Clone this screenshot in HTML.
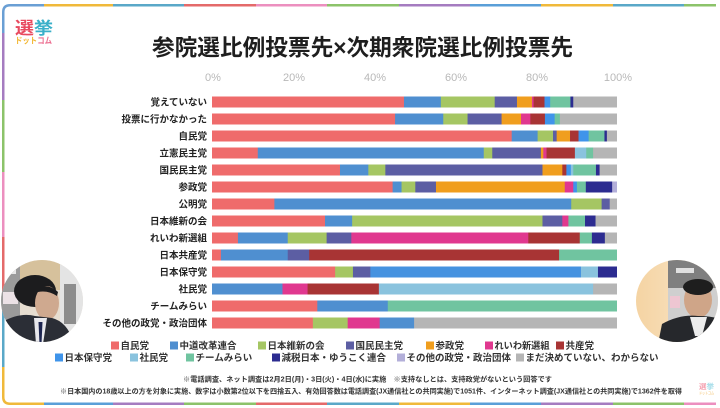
<!DOCTYPE html>
<html><head><meta charset="utf-8"><style>
html,body{margin:0;padding:0;background:#fff;}
body{width:720px;height:408px;overflow:hidden;position:relative;}
svg{display:block;}
</style></head><body>
<svg width="720" height="408" viewBox="0 0 720 408" xmlns="http://www.w3.org/2000/svg" font-family="'Liberation Sans','Noto Sans CJK JP',sans-serif">
<rect width="720" height="408" fill="#fff"/>
<!-- frame -->
<g fill="none" stroke-width="2.5">
<path d="M3.25 33 V12 Q3.25 5.25 10 5.25 H44" stroke="#6a9fd4"/>
<path d="M44 5.25 H113" stroke="#f0b93a"/>
<path d="M113 5.25 H184" stroke="#5aa8c8"/>
<path d="M184 5.25 H256" stroke="#e46a6a"/>
<path d="M256 5.25 H327" stroke="#ec8fbf"/>
<path d="M327 5.25 H399" stroke="#8cc36a"/>
<path d="M399 5.25 H470" stroke="#a57cc0"/>
<path d="M470 5.25 H541" stroke="#5a9fd8"/>
<path d="M541 5.25 H613" stroke="#f0b93a"/>
<path d="M613 5.25 H684" stroke="#5aa8c8"/>
<path d="M684 5.25 H716" stroke="#8cc36a"/>
<path d="M3.25 33 V100" stroke="#a57cc0"/>
<path d="M3.25 100 V172" stroke="#8cc36a"/>
<path d="M3.25 172 V237" stroke="#ec8fbf"/>
<path d="M3.25 237 V300" stroke="#e46a6a"/>
<path d="M3.25 300 V367" stroke="#5aa8c8"/>
<path d="M3.25 367 V397 Q3.25 403.75 10 403.75 H44" stroke="#f0b93a"/>
<path d="M44 403.75 H113" stroke="#5a9fd8"/>
<path d="M113 403.75 H184" stroke="#a57cc0"/>
<path d="M184 403.75 H256" stroke="#8cc36a"/>
<path d="M256 403.75 H327" stroke="#e46a6a"/>
<path d="M327 403.75 H399" stroke="#5aa8c8"/>
<path d="M399 403.75 H470" stroke="#f0b93a"/>
<path d="M470 403.75 H541" stroke="#5a9fd8"/>
<path d="M541 403.75 H613" stroke="#a57cc0"/>
<path d="M613 403.75 H684" stroke="#8cc36a"/>
<path d="M684 403.75 H716" stroke="#ec8fbf"/>
</g>
<!-- logo -->
<text x="15" y="34" font-size="17" font-weight="700" textLength="38" lengthAdjust="spacingAndGlyphs"><tspan fill="#e84a5f">選</tspan><tspan fill="#3bb0c9">挙</tspan></text>
<text x="15" y="43.5" font-size="8.5" font-weight="700" textLength="37" lengthAdjust="spacingAndGlyphs"><tspan fill="#f2b632">ドット</tspan><tspan fill="#ec6d8f">コム</tspan></text>
<!-- title -->
<text x="152" y="55.6" font-size="22.7" font-weight="700" fill="#1e1e1e" textLength="421" lengthAdjust="spacingAndGlyphs">参院選比例投票先×次期衆院選比例投票先</text>
<!-- ticks -->
<g font-size="11" fill="#b8b8b8" text-anchor="middle">
<text x="213" y="81">0%</text>
<text x="294" y="81">20%</text>
<text x="375" y="81">40%</text>
<text x="456" y="81">60%</text>
<text x="537" y="81">80%</text>
<text x="618" y="81">100%</text>
</g>
<!-- row labels -->
<g font-size="9.5" font-weight="700" fill="#222" text-anchor="end">
<text x="207" y="105.6">覚えていない</text>
<text x="207" y="122.6">投票に行かなかった</text>
<text x="207" y="139.6">自民党</text>
<text x="207" y="156.6">立憲民主党</text>
<text x="207" y="173.6">国民民主党</text>
<text x="207" y="190.6">参政党</text>
<text x="207" y="207.6">公明党</text>
<text x="207" y="224.6">日本維新の会</text>
<text x="207" y="241.6">れいわ新選組</text>
<text x="207" y="258.6">日本共産党</text>
<text x="207" y="275.6">日本保守党</text>
<text x="207" y="292.6">社民党</text>
<text x="207" y="309.6">チームみらい</text>
<text x="207" y="326.6">その他の政党・政治団体</text>
</g>
<!-- bars -->
<svg x="212" y="96.5" width="405" height="11" viewBox="0 0 100 1" preserveAspectRatio="none">
<rect width="100" height="1" fill="#b5b5b5"/><rect width="89.2" height="1" fill="#2c2c90"/><rect width="88.5" height="1" fill="#70c4a0"/><rect width="83.5" height="1" fill="#3f94ea"/><rect width="82.1" height="1" fill="#a83434"/><rect width="79.4" height="1" fill="#e0388f"/><rect width="79.0" height="1" fill="#f09e1e"/><rect width="75.3" height="1" fill="#5c5ea3"/><rect width="69.8" height="1" fill="#a5c663"/><rect width="56.5" height="1" fill="#4f8fd0"/><rect width="47.4" height="1" fill="#ef6b6b"/>
</svg>
<svg x="212" y="113.5" width="405" height="11" viewBox="0 0 100 1" preserveAspectRatio="none">
<rect width="100" height="1" fill="#b5b5b5"/><rect width="85.9" height="1" fill="#70c4a0"/><rect width="84.6" height="1" fill="#3f94ea"/><rect width="82.2" height="1" fill="#a83434"/><rect width="78.6" height="1" fill="#e0388f"/><rect width="76.3" height="1" fill="#f09e1e"/><rect width="71.5" height="1" fill="#5c5ea3"/><rect width="63.1" height="1" fill="#a5c663"/><rect width="57.1" height="1" fill="#4f8fd0"/><rect width="45.2" height="1" fill="#ef6b6b"/>
</svg>
<svg x="212" y="130.5" width="405" height="11" viewBox="0 0 100 1" preserveAspectRatio="none">
<rect width="100" height="1" fill="#b5b5b5"/><rect width="97.5" height="1" fill="#2c2c90"/><rect width="96.9" height="1" fill="#70c4a0"/><rect width="93.0" height="1" fill="#3f94ea"/><rect width="90.5" height="1" fill="#a83434"/><rect width="88.4" height="1" fill="#f09e1e"/><rect width="85.1" height="1" fill="#5c5ea3"/><rect width="84.2" height="1" fill="#a5c663"/><rect width="80.4" height="1" fill="#4f8fd0"/><rect width="74.0" height="1" fill="#ef6b6b"/>
</svg>
<svg x="212" y="147.5" width="405" height="11" viewBox="0 0 100 1" preserveAspectRatio="none">
<rect width="100" height="1" fill="#b5b5b5"/><rect width="94.1" height="1" fill="#70c4a0"/><rect width="92.4" height="1" fill="#8ac3de"/><rect width="89.6" height="1" fill="#a83434"/><rect width="82.6" height="1" fill="#e0388f"/><rect width="81.8" height="1" fill="#f09e1e"/><rect width="81.2" height="1" fill="#5c5ea3"/><rect width="69.2" height="1" fill="#a5c663"/><rect width="67.1" height="1" fill="#4f8fd0"/><rect width="11.3" height="1" fill="#ef6b6b"/>
</svg>
<svg x="212" y="164.5" width="405" height="11" viewBox="0 0 100 1" preserveAspectRatio="none">
<rect width="100" height="1" fill="#b5b5b5"/><rect width="95.7" height="1" fill="#2c2c90"/><rect width="94.8" height="1" fill="#70c4a0"/><rect width="89.2" height="1" fill="#8ac3de"/><rect width="88.6" height="1" fill="#3f94ea"/><rect width="87.5" height="1" fill="#a83434"/><rect width="86.5" height="1" fill="#f09e1e"/><rect width="81.6" height="1" fill="#5c5ea3"/><rect width="42.8" height="1" fill="#a5c663"/><rect width="38.6" height="1" fill="#4f8fd0"/><rect width="31.6" height="1" fill="#ef6b6b"/>
</svg>
<svg x="212" y="181.5" width="405" height="11" viewBox="0 0 100 1" preserveAspectRatio="none">
<rect width="100" height="1" fill="#b3afd9"/><rect width="98.8" height="1" fill="#2c2c90"/><rect width="92.3" height="1" fill="#70c4a0"/><rect width="90.1" height="1" fill="#3f94ea"/><rect width="89.2" height="1" fill="#e0388f"/><rect width="87.1" height="1" fill="#f09e1e"/><rect width="55.3" height="1" fill="#5c5ea3"/><rect width="50.2" height="1" fill="#a5c663"/><rect width="46.8" height="1" fill="#4f8fd0"/><rect width="44.6" height="1" fill="#ef6b6b"/>
</svg>
<svg x="212" y="198.5" width="405" height="11" viewBox="0 0 100 1" preserveAspectRatio="none">
<rect width="100" height="1" fill="#b5b5b5"/><rect width="98.2" height="1" fill="#5c5ea3"/><rect width="96.2" height="1" fill="#a5c663"/><rect width="88.7" height="1" fill="#4f8fd0"/><rect width="15.4" height="1" fill="#ef6b6b"/>
</svg>
<svg x="212" y="215.5" width="405" height="11" viewBox="0 0 100 1" preserveAspectRatio="none">
<rect width="100" height="1" fill="#b5b5b5"/><rect width="94.7" height="1" fill="#2c2c90"/><rect width="92.1" height="1" fill="#70c4a0"/><rect width="88.0" height="1" fill="#e0388f"/><rect width="86.5" height="1" fill="#5c5ea3"/><rect width="81.6" height="1" fill="#a5c663"/><rect width="34.6" height="1" fill="#4f8fd0"/><rect width="27.9" height="1" fill="#ef6b6b"/>
</svg>
<svg x="212" y="232.5" width="405" height="11" viewBox="0 0 100 1" preserveAspectRatio="none">
<rect width="100" height="1" fill="#b5b5b5"/><rect width="97.0" height="1" fill="#2c2c90"/><rect width="93.8" height="1" fill="#70c4a0"/><rect width="90.8" height="1" fill="#a83434"/><rect width="78.1" height="1" fill="#e0388f"/><rect width="34.4" height="1" fill="#5c5ea3"/><rect width="28.3" height="1" fill="#a5c663"/><rect width="18.7" height="1" fill="#4f8fd0"/><rect width="6.4" height="1" fill="#ef6b6b"/>
</svg>
<svg x="212" y="249.5" width="405" height="11" viewBox="0 0 100 1" preserveAspectRatio="none">
<rect width="100" height="1" fill="#70c4a0"/><rect width="85.7" height="1" fill="#a83434"/><rect width="24.0" height="1" fill="#5c5ea3"/><rect width="18.7" height="1" fill="#4f8fd0"/><rect width="2.2" height="1" fill="#ef6b6b"/>
</svg>
<svg x="212" y="266.5" width="405" height="11" viewBox="0 0 100 1" preserveAspectRatio="none">
<rect width="100" height="1" fill="#2c2c90"/><rect width="95.3" height="1" fill="#8ac3de"/><rect width="91.1" height="1" fill="#4592e0"/><rect width="39.1" height="1" fill="#5c5ea3"/><rect width="34.8" height="1" fill="#a5c663"/><rect width="30.4" height="1" fill="#ef6b6b"/>
</svg>
<svg x="212" y="283.5" width="405" height="11" viewBox="0 0 100 1" preserveAspectRatio="none">
<rect width="100" height="1" fill="#b5b5b5"/><rect width="94.1" height="1" fill="#8ac3de"/><rect width="41.2" height="1" fill="#a83434"/><rect width="23.6" height="1" fill="#e0388f"/><rect width="17.4" height="1" fill="#4f8fd0"/>
</svg>
<svg x="212" y="300.5" width="405" height="11" viewBox="0 0 100 1" preserveAspectRatio="none">
<rect width="100" height="1" fill="#70c4a0"/><rect width="43.4" height="1" fill="#4f8fd0"/><rect width="26.0" height="1" fill="#ef6b6b"/>
</svg>
<svg x="212" y="317.5" width="405" height="11" viewBox="0 0 100 1" preserveAspectRatio="none">
<rect width="100" height="1" fill="#b5b5b5"/><rect width="49.9" height="1" fill="#4f8fd0"/><rect width="41.4" height="1" fill="#e0388f"/><rect width="33.5" height="1" fill="#a5c663"/><rect width="24.9" height="1" fill="#ef6b6b"/>
</svg>
<!-- legend -->
<g font-size="9.5" font-weight="700" fill="#333">
<rect x="111" y="341.5" width="8" height="8" fill="#ef6b6b"/><text x="120.5" y="349.1">自民党</text>
<rect x="170" y="341.5" width="8" height="8" fill="#4f8fd0"/><text x="179.5" y="349.1">中道改革連合</text>
<rect x="258" y="341.5" width="8" height="8" fill="#a5c663"/><text x="267.5" y="349.1">日本維新の会</text>
<rect x="346" y="341.5" width="8" height="8" fill="#5c5ea3"/><text x="355.5" y="349.1">国民民主党</text>
<rect x="426" y="341.5" width="8" height="8" fill="#f09e1e"/><text x="435.5" y="349.1">参政党</text>
<rect x="485" y="341.5" width="8" height="8" fill="#e0388f"/><text x="494.5" y="349.1" textLength="55" lengthAdjust="spacingAndGlyphs">れいわ新選組</text>
<rect x="556" y="341.5" width="8" height="8" fill="#a83434"/><text x="565.5" y="349.1">共産党</text>
<rect x="55" y="353.5" width="8" height="8" fill="#3f94ea"/><text x="64.5" y="361.1">日本保守党</text>
<rect x="130" y="353.5" width="8" height="8" fill="#8ac3de"/><text x="139.5" y="361.1">社民党</text>
<rect x="186" y="353.5" width="8" height="8" fill="#70c4a0"/><text x="195.5" y="361.1">チームみらい</text>
<rect x="272" y="353.5" width="8" height="8" fill="#2c2c90"/><text x="281.5" y="361.1">減税日本・ゆうこく連合</text>
<rect x="397" y="353.5" width="8" height="8" fill="#b3afd9"/><text x="406.5" y="361.1">その他の政党・政治団体</text>
<rect x="516" y="353.5" width="8" height="8" fill="#b5b5b5"/><text x="525.5" y="361.1">まだ決めていない、わからない</text>
</g>
<!-- footnotes -->
<g font-size="7" font-weight="700" fill="#333">
<text x="183" y="381.7" textLength="369" lengthAdjust="spacingAndGlyphs">※電話調査、ネット調査は2月2日(月)・3日(火)・4日(水)に実施　※支持なしとは、支持政党がないという回答です</text>
<text x="60" y="393.7" textLength="622" lengthAdjust="spacingAndGlyphs">※日本国内の18歳以上の方を対象に実施、数字は小数第2位以下を四捨五入、有効回答数は電話調査(JX通信社との共同実施)で1051件、インターネット調査(JX通信社との共同実施)で1362件を取得</text>
</g>
<!-- small logo bottom right -->
<text x="699" y="389" font-size="7.5" font-weight="700" textLength="15" lengthAdjust="spacingAndGlyphs" opacity="0.7"><tspan fill="#f07a90">選</tspan><tspan fill="#7fcfe0">挙</tspan></text>
<text x="699" y="394.5" font-size="4" font-weight="700" textLength="15" lengthAdjust="spacingAndGlyphs" fill="#f3c06a" opacity="0.7">ドットコム</text>
<!-- circles -->
<defs>
<clipPath id="c1"><circle cx="42" cy="301" r="41"/></clipPath>
<clipPath id="c2"><circle cx="677" cy="301" r="41"/></clipPath>
<linearGradient id="pg" x1="0" y1="0" x2="1" y2="0"><stop offset="0" stop-color="#f4d2a0"/><stop offset="1" stop-color="#fbead0"/></linearGradient>
</defs>
<g clip-path="url(#c1)">
<rect x="0" y="258" width="90" height="90" fill="#e6ddd0"/>
<rect x="0" y="258" width="20" height="90" fill="#9b9b9b"/>
<rect x="2" y="268" width="14" height="6" fill="#e8e8e8"/>
<rect x="3" y="292" width="15" height="12" fill="#ece2e6"/>
<rect x="20" y="258" width="42" height="32" fill="#d6c19c"/>
<rect x="60" y="258" width="30" height="90" fill="#e4e4e4"/>
<rect x="64" y="284" width="12" height="40" fill="#8d8d8d"/>
<ellipse cx="35" cy="291" rx="21" ry="16" fill="#1c1c1e"/>
<ellipse cx="47" cy="303" rx="12" ry="17" fill="#cfa98f"/>
<path d="M38 287 Q50 284 58 292 L57 296 Q48 290 38 292 Z" fill="#1c1c1e"/>
<path d="M0 344 L2 322 Q20 312 35 316 L52 318 Q68 322 74 344 Z" fill="#2b2e36"/>
<path d="M34 318 L47 318 L43 344 L36 344 Z" fill="#e8e8ec"/>
<path d="M38.5 322 L42.5 322 L41.5 344 L39.5 344 Z" fill="#1d2550"/>
</g>
<g clip-path="url(#c2)">
<rect x="630" y="258" width="95" height="90" fill="url(#pg)"/>
<rect x="668" y="258" width="55" height="30" fill="#7f7f7f"/>
<rect x="676" y="268" width="18" height="5" fill="#e0e0e0"/>
<rect x="668" y="288" width="55" height="40" fill="#cfcfcf"/>
<rect x="670" y="296" width="10" height="12" fill="#eec6d2"/>
<ellipse cx="698" cy="300" rx="14" ry="18" fill="#cfa588"/>
<ellipse cx="698" cy="287" rx="15" ry="8" fill="#1e1e1e"/>
<path d="M658 344 L662 324 Q680 314 698 316 Q714 316 722 320 L722 344 Z" fill="#26282c"/>
<path d="M690 317 L707 317 L702 336 L695 336 Z" fill="#ececec"/>
</g>
</svg>
</body></html>
